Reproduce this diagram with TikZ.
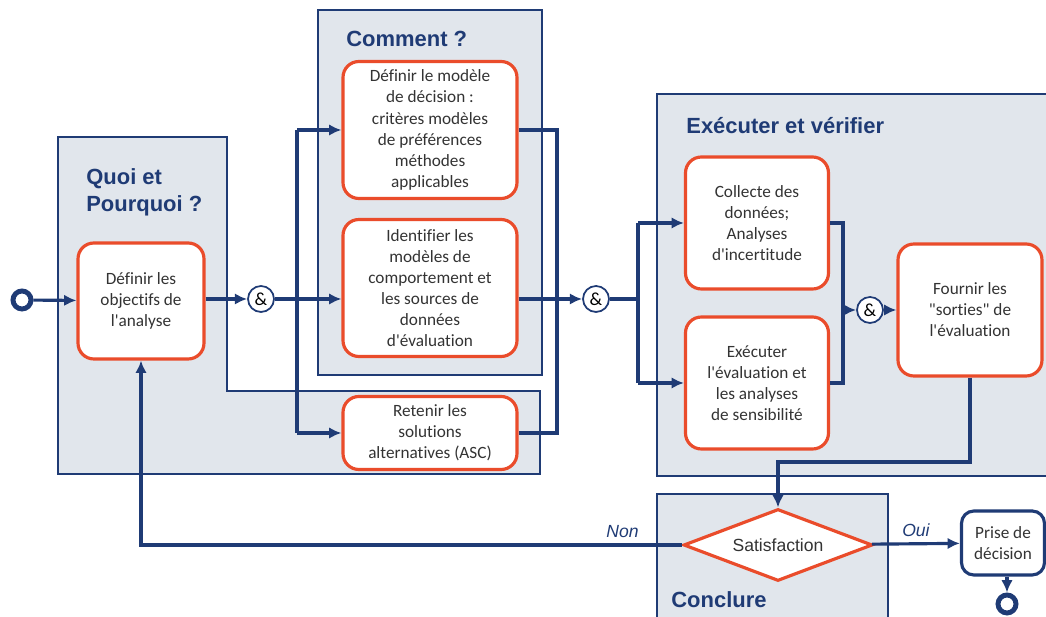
\documentclass[tikz,border=0pt]{standalone}
\usepackage{fontspec}
\setmainfont{Carlito}[Ligatures={TeXOff,CommonOff}]
\newfontfamily\arialfont{Liberation Sans}
\usetikzlibrary{shapes.geometric,arrows.meta}
\definecolor{navy}{RGB}{31,59,117}
\definecolor{panelgray}{RGB}{225,230,236}
\definecolor{redline}{RGB}{234,76,43}
\tikzset{
  tache/.style={draw=redline, line width=1.8pt, fill=white, rounded corners=9pt,
    align=center, text=black!80, font=\fontsize{9.8}{12}\selectfont, inner sep=1pt},
  panneau/.style={draw=navy, fill=panelgray, line width=1pt},
  titre/.style={text=navy, font=\arialfont\bfseries\fontsize{12.5}{15.5}\selectfont,
    anchor=north west, align=left, inner sep=0pt},
  lien/.style={draw=navy, line width=1.8pt},
  fleche/.style={lien, -{Latex[length=7pt,width=6.5pt]}},
  et/.style={circle, draw=navy, line width=1pt, fill=white, minimum size=0.52cm,
    inner sep=0pt, font=\fontsize{10.5}{12}\selectfont},
  bout/.style={circle, draw=navy, line width=2.8pt, fill=white, minimum size=0.36cm,
    inner sep=0pt},
  reponse/.style={text=navy, font=\arialfont\itshape\fontsize{10}{12}\selectfont}
}
\begin{document}
\begin{tikzpicture}[x=0.02cm, y=-0.02cm]
\useasboundingbox (0,0) rectangle (1046,617);
% panneaux
\draw[panneau] (58,137) -- (227,137) -- (227,391) -- (540,391) -- (540,474) -- (58,474) -- cycle;
\draw[panneau] (318,10) rectangle (542,375);
\draw[panneau] (657,94) rectangle (1060,476);
\draw[panneau] (657,494) rectangle (888,630);
\node[titre] at (86,168) {Quoi et\\Pourquoi ?};
\node[titre] at (346,31) {Comment ?};
\node[titre] at (686,117) {Exécuter et vérifier};
\node[titre] at (671,591) {Conclure};
% taches
\node[bout] (debut) at (22,300) {};
\node[tache, minimum width=2.52cm, minimum height=2.32cm] (objectifs) at (141,301) {Définir les\\objectifs de\\l'analyse};
\node[et] (et_1) at (261,299) {\&};
\node[tache, minimum width=3.48cm, minimum height=2.74cm] (modele) at (430,130) {Définir le modèle\\de décision :\\critères modèles\\de préférences\\méthodes\\applicables};
\node[tache, minimum width=3.48cm, minimum height=2.74cm] (identifier) at (430,288) {Identifier les\\modèles de\\comportement et\\les sources de\\données\\d'évaluation};
\node[tache, minimum width=3.48cm, minimum height=1.46cm] (retenir) at (430,433) {Retenir les\\solutions\\alternatives (ASC)};
\node[et] (et_2) at (596,299) {\&};
\node[tache, minimum width=2.86cm, minimum height=2.64cm] (collecte) at (757,223) {Collecte des\\données;\\Analyses\\d'incertitude};
\node[tache, minimum width=2.86cm, minimum height=2.64cm] (executer) at (757,383) {Exécuter\\l'évaluation et\\les analyses\\de sensibilité};
\node[et] (et_3) at (870,310) {\&};
\node[tache, minimum width=2.88cm, minimum height=2.64cm] (fournir) at (970,310) {Fournir les\\"sorties" de\\l'évaluation};
\node[diamond, aspect=2.6, draw=redline, line width=1.8pt, fill=white, inner sep=0pt,
  minimum width=3.78cm, minimum height=1.44cm, text=black!80,
  font=\arialfont\fontsize{10}{12}\selectfont] (satisf) at (778,545) {Satisfaction};
\node[draw=navy, line width=1.8pt, fill=white, rounded corners=7pt, align=center,
  minimum width=1.66cm, minimum height=1.28cm, inner sep=1pt, text=black!80,
  font=\fontsize{9.8}{12}\selectfont] (decision) at (1003,543) {Prise de\\décision};
\node[bout] (fin) at (1007,604) {};
% points de passage
\coordinate (bus_1) at (297,0);
\coordinate (bus_2) at (557,0);
\coordinate (bus_3) at (638,0);
\coordinate (bus_4) at (843,0);
\coordinate (coude) at (0,462);
% liens
\draw[fleche] (debut) -- (objectifs);
\draw[fleche] (objectifs.east |- et_1) -- (et_1);
\draw[fleche] (et_1) -- (et_1 -| identifier.west);
\draw[lien] (bus_1 |- modele) -- (bus_1 |- retenir);
\draw[fleche] (bus_1 |- modele) -- (modele);
\draw[fleche] (bus_1 |- retenir) -- (retenir);
\draw[lien] (modele) -| (bus_2 |- retenir) -- (retenir);
\draw[fleche] (identifier.east |- et_2) -- (et_2);
\draw[lien] (et_2) -- (bus_3 |- et_2);
\draw[lien] (bus_3 |- collecte) -- (bus_3 |- executer);
\draw[fleche] (bus_3 |- collecte) -- (collecte);
\draw[fleche] (bus_3 |- executer) -- (executer);
\draw[lien] (collecte) -| (bus_4 |- executer) -- (executer);
\draw[fleche] (bus_4 |- et_3) -- (et_3);
\draw[fleche] (et_3) -- (fournir);
\draw[fleche] (fournir) -- (fournir |- coude) -| (satisf);
\draw[fleche] (satisf) -| (objectifs) node[pos=0.055, above, reponse] {Non};
\draw[fleche] (satisf) -- (decision) node[midway, above, reponse] {Oui};
\draw[fleche] (decision.south -| fin) -- (fin);
\end{tikzpicture}
\end{document}
